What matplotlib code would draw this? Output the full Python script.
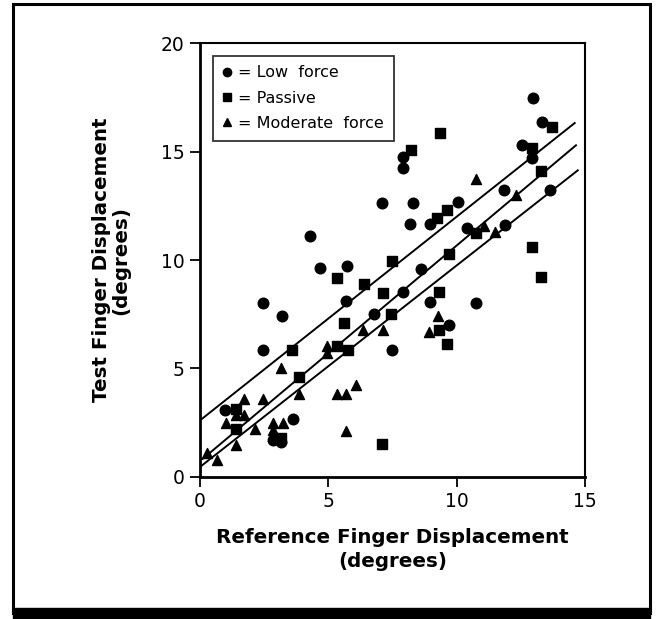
import numpy as np
import matplotlib.pyplot as plt
from matplotlib.patches import Rectangle
from matplotlib.lines import Line2D

# -----------------------------
# Data (degrees)
low_x = [0.98, 2.47, 2.47, 3.19, 2.85, 3.16, 3.62, 4.30, 4.67, 5.72, 5.68, 7.10,
         6.78, 7.50, 7.92, 7.92, 7.92, 8.20, 8.29, 8.60, 8.95, 8.95, 9.72, 10.04,
         10.42, 10.76, 11.86, 11.87, 12.55, 12.97, 12.94, 13.32, 13.64]
low_y = [3.10, 8.02, 5.85, 7.43, 1.69, 1.60, 2.66, 11.10, 9.61, 9.72, 8.09, 12.65,
         7.49, 5.85, 8.53, 14.77, 14.23, 11.65, 12.65, 9.57, 11.67, 8.07, 6.98, 12.66,
         11.50, 8.03, 13.22, 11.61, 15.32, 17.50, 14.73, 16.38, 13.23]

passive_x = [1.39, 1.39, 3.57, 3.85, 3.16, 5.35, 5.33, 5.62, 5.75, 6.40, 7.12, 7.09,
             7.47, 7.43, 8.24, 9.35, 9.25, 9.61, 9.30, 9.33, 9.62, 9.70, 10.74, 12.95,
             12.94, 13.30, 13.28, 13.70]
passive_y = [3.12, 2.19, 5.85, 4.61, 1.79, 9.15, 6.04, 7.10, 5.87, 8.89, 8.49, 1.51,
             9.96, 7.49, 15.08, 15.88, 11.93, 12.30, 8.52, 6.77, 6.11, 10.27, 11.26, 15.15,
             10.59, 14.09, 9.20, 16.15]

moderate_x = [0.26, 0.65, 1.03, 1.39, 1.39, 1.72, 1.72, 2.13, 2.47, 2.85, 2.85, 3.23,
              3.16, 3.85, 4.96, 4.96, 5.32, 5.68, 5.68, 6.09, 6.37, 7.12, 8.94, 9.29,
              10.74, 11.07, 11.49, 12.30]
moderate_y = [1.09, 0.77, 2.48, 2.84, 1.46, 3.57, 2.84, 2.19, 3.57, 2.48, 2.15, 2.48,
              5.01, 3.83, 5.70, 6.01, 3.83, 3.83, 2.11, 4.24, 6.79, 6.79, 6.70, 7.43,
              13.73, 11.56, 11.28, 13.02]

# regression lines: intercept, slope, x start, x end
line_b0 = [2.60, 0.72, 0.45]
line_b1 = [0.94, 0.995, 0.93]
line_x0 = [0.0, 0.1, 0.0]
line_x1 = [14.6, 14.65, 14.72]
# -----------------------------

plt.rcParams['font.family'] = ['DejaVu Sans']

fig = plt.figure(figsize=(6.58, 6.19), dpi=100)
ax = fig.add_axes([0.304, 0.2299, 0.585, 0.700])

for b0, b1, xa, xb in zip(line_b0, line_b1, line_x0, line_x1):
    xs = np.array([xa, xb])
    ax.plot(xs, b0 + b1 * xs, color='black', lw=1.4, zorder=2)

ax.scatter(low_x, low_y, marker='o', s=58, color='black', zorder=3)
ax.scatter(passive_x, passive_y, marker='s', s=50, color='black', zorder=3)
ax.scatter(moderate_x, moderate_y, marker='^', s=52, color='black', zorder=3)

ax.set_xlim(0, 15)
ax.set_ylim(0, 20)
ax.set_xticks([0, 5, 10, 15])
ax.set_yticks([0, 5, 10, 15, 20])
ax.tick_params(direction='out', length=7, width=1.3, labelsize=13.5, pad=4, colors='black')
for side in ['left', 'bottom']:
    ax.spines[side].set_linewidth(2.0)
for side in ['top', 'right']:
    ax.spines[side].set_linewidth(1.5)

ax.set_xlabel('Reference Finger Displacement\n(degrees)', fontsize=14.3,
              fontweight='heavy', labelpad=12, linespacing=1.35)
ax.set_ylabel('Test Finger Displacement\n(degrees)', fontsize=14.3,
              fontweight='heavy', labelpad=22, linespacing=1.05)

handles = [
    Line2D([], [], ls='none', marker='o', ms=6, color='black'),
    Line2D([], [], ls='none', marker='s', ms=5.5, color='black'),
    Line2D([], [], ls='none', marker='^', ms=6, color='black'),
]
leg = ax.legend(handles, ['= Low  force', '= Passive', '= Moderate  force'],
                loc='upper left', bbox_to_anchor=(0.012, 0.99), fontsize=11.5,
                frameon=True, fancybox=False, edgecolor='black', borderpad=0.6,
                handlelength=0.6, handletextpad=0.4, labelspacing=0.65)
leg.get_frame().set_linewidth(1.3)

# outer frame of the figure
fig.patches.append(Rectangle((0.020, 0.01), 0.968, 0.983, transform=fig.transFigure,
                             fill=False, edgecolor='black', lw=2.2))
fig.patches.append(Rectangle((0.020, 0.0), 0.968, 0.018, transform=fig.transFigure,
                             fill=True, facecolor='black', edgecolor='black'))

fig.savefig('out.png', dpi=100)
